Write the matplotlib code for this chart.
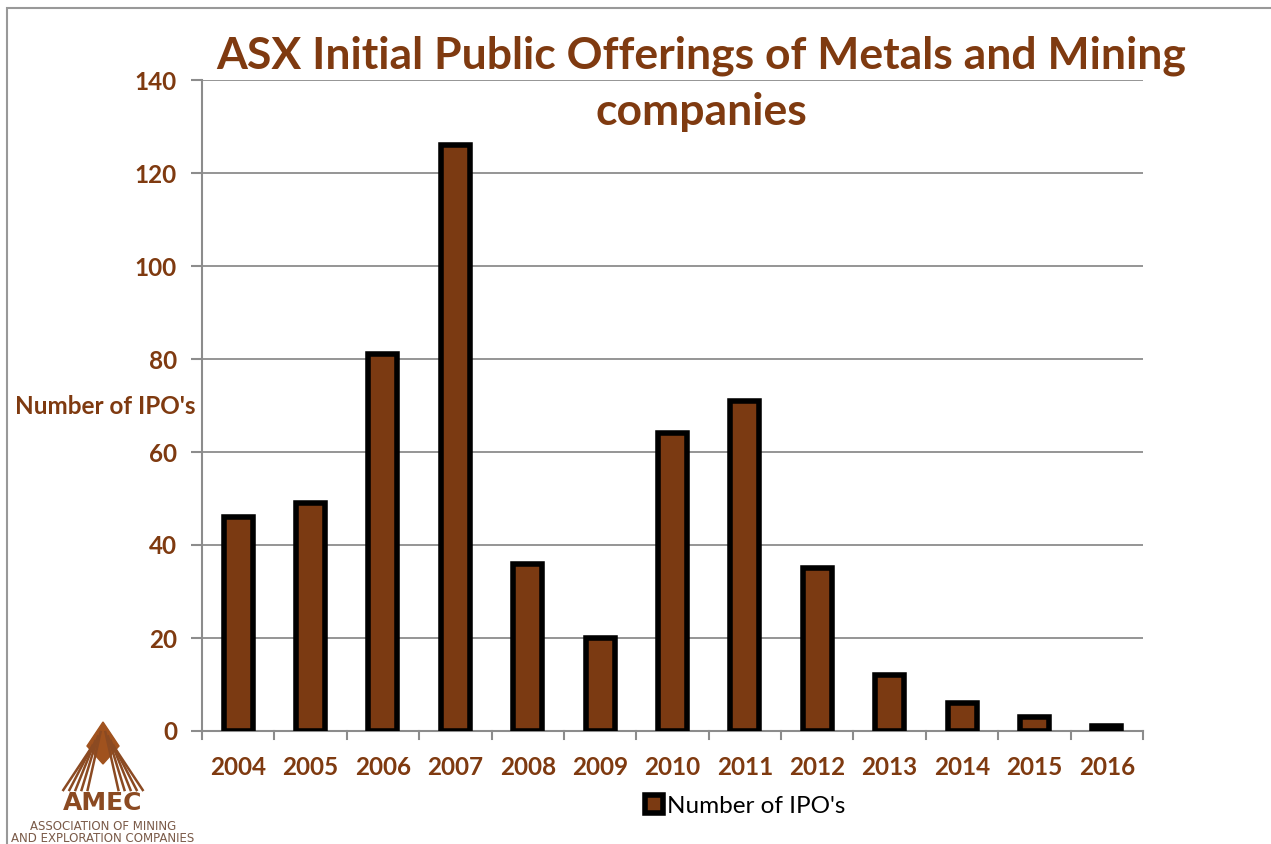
import matplotlib
matplotlib.use("Agg")
import matplotlib.pyplot as plt
from matplotlib.patches import Rectangle, Polygon
from matplotlib.lines import Line2D

years = ["2004", "2005", "2006", "2007", "2008", "2009", "2010",
         "2011", "2012", "2013", "2014", "2015", "2016"]
ipos = [46, 49, 81, 126, 36, 20, 64, 71, 35, 12, 6, 3, 1]
yticks = [0, 20, 40, 60, 80, 100, 120, 140]

BROWN = "#7B3A12"
TXT = "#7F3A10"
GRID = "#8C8C8C"
FONT = "Lato"

fig = plt.figure(figsize=(12.71, 8.44), dpi=100)
W, H = 1271, 844
ax = fig.add_axes([202 / W, 1 - 731 / H, (1143 - 202) / W, (731 - 80) / H])

x = list(range(len(years)))
ax.bar(x, ipos, width=0.40, color=BROWN, edgecolor="black", linewidth=4.0,
       zorder=3, label="Number of IPO's")
ax.set_xlim(-0.5, len(years) - 0.5)
ax.set_ylim(0, 140)
ax.set_yticks(yticks)
ax.set_yticklabels([str(v) for v in yticks])
ax.set_xticks(x)
ax.set_xticklabels(years)
ax.tick_params(axis="x", length=0, pad=18)
ax.tick_params(axis="y", length=8, width=1.5, color=GRID, pad=10)
for lab in ax.get_xticklabels() + ax.get_yticklabels():
    lab.set_fontfamily(FONT)
    lab.set_fontweight("bold")
    lab.set_fontsize(17.5)
    lab.set_color(TXT)
# x category boundary ticks
for b in [i - 0.5 for i in range(len(years) + 1)]:
    ax.plot([b, b], [0, -1.7], color=GRID, lw=1.5, clip_on=False, zorder=2)
ax.grid(axis="y", color=GRID, lw=1.3, zorder=0)
for s in ["top", "right"]:
    ax.spines[s].set_visible(False)
for s in ["left", "bottom"]:
    ax.spines[s].set_color(GRID)
    ax.spines[s].set_linewidth(1.5)

fig.text(15 / W, 1 - 406 / H, "Number of IPO's", ha="left", va="center",
         fontfamily=FONT, fontweight="bold", fontsize=17.5, color=TXT)

fig.text(701 / W, 1 - 84 / H, "ASX Initial Public Offerings of Metals and Mining\ncompanies",
         ha="center", va="center", fontfamily=FONT, fontweight="bold",
         fontsize=32, color=TXT, linespacing=1.5)

leg = fig.legend(loc="center", bbox_to_anchor=(745 / W, 1 - 806 / H), frameon=False,
                 prop={"family": FONT, "size": 17.5}, handlelength=0.75, handleheight=0.75,
                 handletextpad=0.15)
for t in leg.get_texts():
    t.set_color("black")

# outer frame
fig.add_artist(Rectangle((7 / W, -0.1), 1.2, 1 - 8 / H + 0.1, transform=fig.transFigure,
                         fill=False, edgecolor="#999999", lw=1.5))

# AMEC logo (approximate)
def fx(px):
    return px / W
def fy(py):
    return 1 - py / H
LOGO = "#8B4A22"
fig.add_artist(Polygon([(fx(103), fy(722)), (fx(119), fy(746)), (fx(103), fy(764)), (fx(87), fy(746))],
                       closed=True, transform=fig.transFigure, color="#A0521E"))
for k in range(5):
    off = 4 + k * 4.5
    fig.add_artist(Line2D([fx(103 - off * 0.6), fx(103 - 10 - off * 1.35)],
                          [fy(728 + off * 1.0), fy(790)], transform=fig.transFigure,
                          color=LOGO, lw=1.8))
    fig.add_artist(Line2D([fx(103 + off * 0.6), fx(103 + 10 + off * 1.35)],
                          [fy(728 + off * 1.0), fy(790)], transform=fig.transFigure,
                          color=LOGO, lw=1.8))
fig.text(fx(103), fy(803), "AMEC", ha="center", va="center", fontfamily="DejaVu Sans",
         fontweight="bold", fontsize=18, color=LOGO)
fig.text(fx(103), fy(827), "ASSOCIATION OF MINING", ha="center", va="center",
         fontfamily="DejaVu Sans", fontsize=8.5, color="#7A5A48")
fig.text(fx(103), fy(838), "AND EXPLORATION COMPANIES", ha="center", va="center",
         fontfamily="DejaVu Sans", fontsize=8.5, color="#7A5A48")

fig.savefig("out.png", dpi=100)
